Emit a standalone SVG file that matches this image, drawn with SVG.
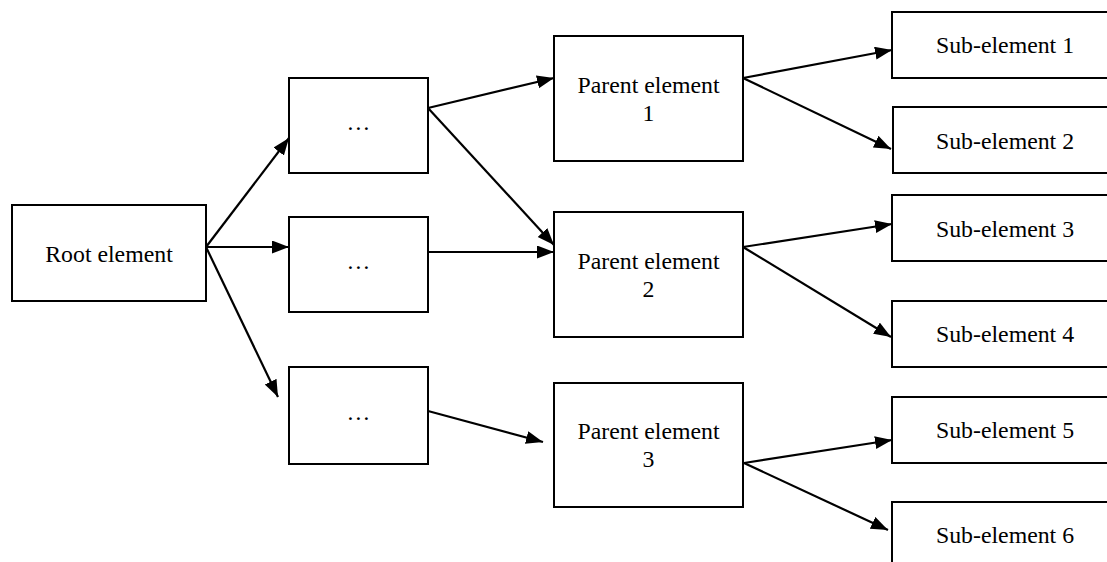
<svg xmlns="http://www.w3.org/2000/svg" width="1107" height="562" viewBox="0 0 1107 562">
<style>
.box{fill:#fff;stroke:#000;stroke-width:2}
.t{font-family:"Liberation Serif","Times New Roman",serif;font-size:23.8px;fill:#000;text-anchor:middle}
.c{stroke:#000;stroke-width:2.2;fill:none;marker-end:url(#ah)}
</style>
<defs>
<marker id="ah" markerUnits="userSpaceOnUse" markerWidth="18" markerHeight="14" refX="17" refY="6.5" orient="auto">
<path d="M0,0 L17,6.5 L0,13 z" fill="#000"/>
</marker>
</defs>
<rect width="1107" height="562" fill="#fff"/>
<g id="root"><rect class="box" x="12" y="205" width="194" height="96"/><text class="t" x="109" y="262">Root element</text></g>
<g id="dots1"><rect class="box" x="289" y="78" width="139" height="95"/><text class="t" x="358.5" y="130">…</text></g>
<g id="dots2"><rect class="box" x="289" y="217" width="139" height="95"/><text class="t" x="358.5" y="269">…</text></g>
<g id="dots3"><rect class="box" x="289" y="367" width="139" height="97"/><text class="t" x="358.5" y="420">…</text></g>
<g id="parent1"><rect class="box" x="554" y="36" width="189" height="125"/><text class="t" x="648.5" y="93">Parent element</text><text class="t" x="648.5" y="121">1</text></g>
<g id="parent2"><rect class="box" x="554" y="212" width="189" height="125"/><text class="t" x="648.5" y="269">Parent element</text><text class="t" x="648.5" y="297">2</text></g>
<g id="parent3"><rect class="box" x="554" y="383" width="189" height="124"/><text class="t" x="648.5" y="439">Parent element</text><text class="t" x="648.5" y="467">3</text></g>
<g id="sub1"><rect class="box" x="892" y="12" width="226" height="66"/><text class="t" x="1005" y="53">Sub-element 1</text></g>
<g id="sub2"><rect class="box" x="893" y="107" width="226" height="66"/><text class="t" x="1005" y="149">Sub-element 2</text></g>
<g id="sub3"><rect class="box" x="892" y="195" width="226" height="66"/><text class="t" x="1005" y="237">Sub-element 3</text></g>
<g id="sub4"><rect class="box" x="892" y="301" width="226" height="66"/><text class="t" x="1005" y="342">Sub-element 4</text></g>
<g id="sub5"><rect class="box" x="892" y="397" width="226" height="66"/><text class="t" x="1005" y="438">Sub-element 5</text></g>
<g id="sub6"><rect class="box" x="892" y="502" width="226" height="70"/><text class="t" x="1005" y="543">Sub-element 6</text></g>
<g id="connectors">
<line class="c" x1="206" y1="247" x2="289" y2="138"/>
<line class="c" x1="206" y1="247" x2="289" y2="247"/>
<line class="c" x1="206" y1="247" x2="278" y2="397"/>
<line class="c" x1="428" y1="108" x2="554" y2="78"/>
<line class="c" x1="428" y1="108" x2="554" y2="245"/>
<line class="c" x1="428" y1="252" x2="554" y2="252"/>
<line class="c" x1="428" y1="411" x2="543" y2="442"/>
<line class="c" x1="743" y1="78" x2="892" y2="50"/>
<line class="c" x1="743" y1="78" x2="891" y2="149"/>
<line class="c" x1="743" y1="247" x2="892" y2="224"/>
<line class="c" x1="743" y1="247" x2="891" y2="337"/>
<line class="c" x1="744" y1="463" x2="892" y2="440"/>
<line class="c" x1="744" y1="463" x2="888" y2="530"/>
</g>
</svg>
